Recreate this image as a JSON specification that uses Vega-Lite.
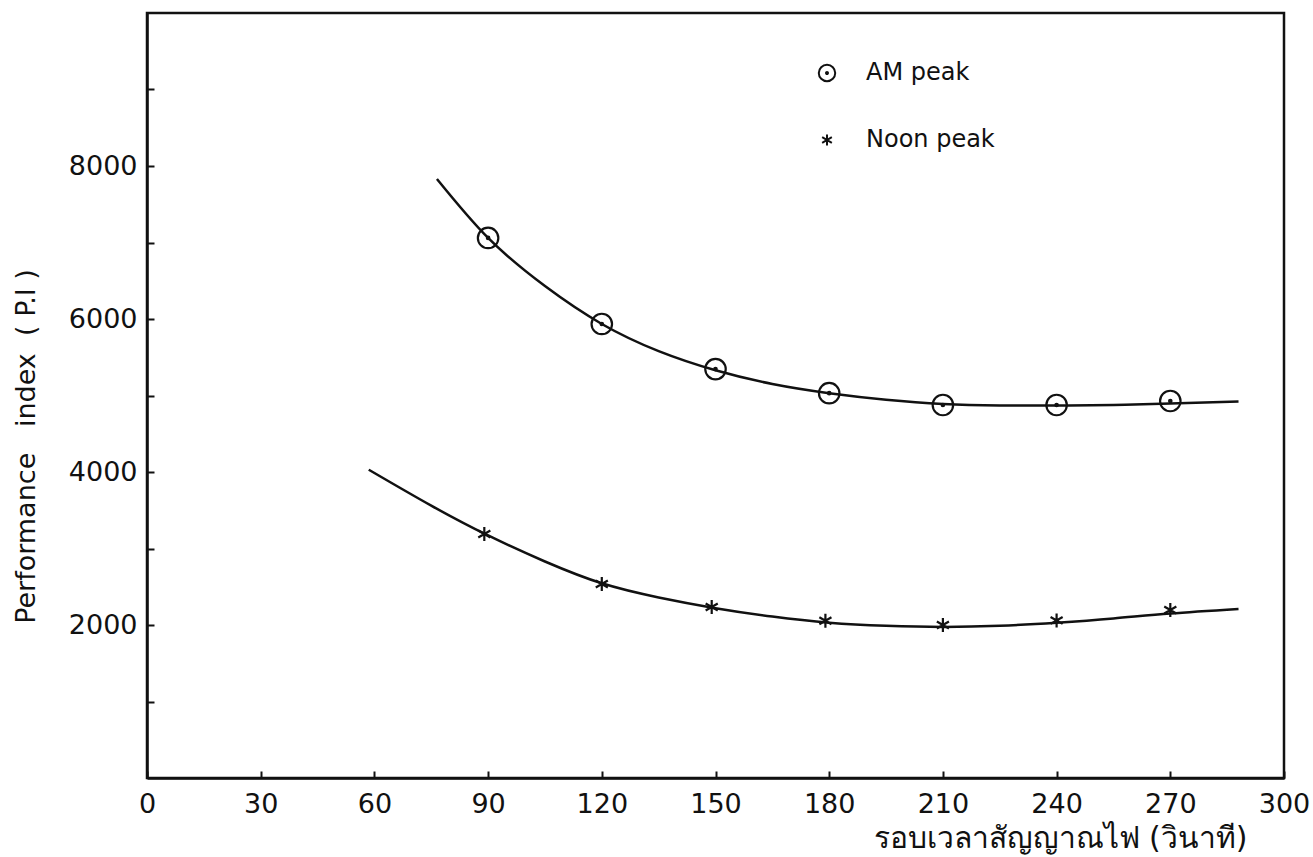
{
  "$schema": "https://vega.github.io/schema/vega-lite/v6.json",
  "width": 1137,
  "height": 765,
  "autosize": "none",
  "padding": {"left": 147, "top": 13, "right": 29, "bottom": 79},
  "background": "white",
  "config": {
    "view": {"stroke": "#111", "strokeWidth": 2.5},
    "font": "DejaVu Sans"
  },
  "datasets": {
    "points": [
      {"series": "AM peak", "cycle": 90, "pi": 7060},
      {"series": "AM peak", "cycle": 120, "pi": 5935},
      {"series": "AM peak", "cycle": 150, "pi": 5345},
      {"series": "AM peak", "cycle": 180, "pi": 5030},
      {"series": "AM peak", "cycle": 210, "pi": 4876},
      {"series": "AM peak", "cycle": 240, "pi": 4876},
      {"series": "AM peak", "cycle": 270, "pi": 4928},
      {"series": "Noon peak", "cycle": 89, "pi": 3190},
      {"series": "Noon peak", "cycle": 120, "pi": 2536},
      {"series": "Noon peak", "cycle": 149, "pi": 2235},
      {"series": "Noon peak", "cycle": 179, "pi": 2055},
      {"series": "Noon peak", "cycle": 210, "pi": 2000},
      {"series": "Noon peak", "cycle": 240, "pi": 2060},
      {"series": "Noon peak", "cycle": 270, "pi": 2196}
    ],
    "curves": [
      {"series": "AM peak", "cycle": 76.5, "pi": 7830},
      {"series": "AM peak", "cycle": 90, "pi": 7060},
      {"series": "AM peak", "cycle": 105, "pi": 6430},
      {"series": "AM peak", "cycle": 120, "pi": 5935},
      {"series": "AM peak", "cycle": 135, "pi": 5580},
      {"series": "AM peak", "cycle": 150, "pi": 5330},
      {"series": "AM peak", "cycle": 165, "pi": 5150},
      {"series": "AM peak", "cycle": 180, "pi": 5030},
      {"series": "AM peak", "cycle": 195, "pi": 4945},
      {"series": "AM peak", "cycle": 210, "pi": 4890},
      {"series": "AM peak", "cycle": 225, "pi": 4870},
      {"series": "AM peak", "cycle": 240, "pi": 4868},
      {"series": "AM peak", "cycle": 255, "pi": 4875},
      {"series": "AM peak", "cycle": 270, "pi": 4895},
      {"series": "AM peak", "cycle": 288, "pi": 4920},
      {"series": "Noon peak", "cycle": 58.5, "pi": 4030},
      {"series": "Noon peak", "cycle": 75, "pi": 3560},
      {"series": "Noon peak", "cycle": 90, "pi": 3170},
      {"series": "Noon peak", "cycle": 105, "pi": 2830},
      {"series": "Noon peak", "cycle": 120, "pi": 2545},
      {"series": "Noon peak", "cycle": 135, "pi": 2360},
      {"series": "Noon peak", "cycle": 150, "pi": 2220},
      {"series": "Noon peak", "cycle": 165, "pi": 2110},
      {"series": "Noon peak", "cycle": 180, "pi": 2030},
      {"series": "Noon peak", "cycle": 195, "pi": 1990},
      {"series": "Noon peak", "cycle": 210, "pi": 1975},
      {"series": "Noon peak", "cycle": 225, "pi": 1990},
      {"series": "Noon peak", "cycle": 240, "pi": 2030},
      {"series": "Noon peak", "cycle": 255, "pi": 2085},
      {"series": "Noon peak", "cycle": 270, "pi": 2150},
      {"series": "Noon peak", "cycle": 288, "pi": 2210}
    ]
  },
  "encoding": {
    "x": {
      "field": "cycle",
      "type": "quantitative",
      "scale": {"domain": [0, 300], "nice": false, "zero": false},
      "axis": {
        "title": "รอบเวลาสัญญาณไฟ (วินาที)",
        "values": [0, 30, 60, 90, 120, 150, 180, 210, 240, 270, 300],
        "grid": false,
        "domainColor": "#111",
        "domainWidth": 2.5,
        "tickColor": "#111",
        "tickWidth": 2,
        "tickSize": -7,
        "labelPadding": 20,
        "labelFontSize": 27,
        "labelColor": "#111",
        "labelFlush": false,
        "titleFontSize": 30,
        "titleColor": "#111",
        "titleFontWeight": "normal",
        "titleX": 913,
        "titleY": 60,
        "titleBaseline": "middle",
        "titleAnchor": "middle"
      }
    },
    "y": {
      "field": "pi",
      "type": "quantitative",
      "scale": {"domain": [0, 10000], "nice": false},
      "axis": {
        "title": "Performance\u00a0\u00a0\u00a0index\u00a0\u00a0(\u00a0P.I\u00a0)",
        "values": [1000, 2000, 3000, 4000, 5000, 6000, 7000, 8000, 9000],
        "labelExpr": "datum.value % 2000 == 0 ? datum.value : ''",
        "format": "d",
        "grid": false,
        "domainColor": "#111",
        "domainWidth": 2.5,
        "tickColor": "#111",
        "tickWidth": 2,
        "tickSize": -7,
        "labelPadding": 17,
        "labelFontSize": 27,
        "labelColor": "#111",
        "titleFontSize": 27,
        "titleColor": "#111",
        "titleFontWeight": "normal",
        "titleX": -107,
        "titleY": 433,
        "titleAnchor": "middle"
      }
    }
  },
  "layer": [
    {
      "data": {"name": "curves"},
      "mark": {"type": "line", "interpolate": "natural", "color": "#111", "strokeWidth": 2.5},
      "encoding": {"detail": {"field": "series"}}
    },
    {
      "data": {"name": "points"},
      "mark": {"type": "point", "filled": false, "color": "#111", "strokeWidth": 2.2, "opacity": 1, "size": 420},
      "encoding": {
        "shape": {
          "field": "series",
          "type": "nominal",
          "scale": {
            "domain": ["AM peak", "Noon peak"],
            "range": [
              "M1,0A1,1 0 1,1 -1,0A1,1 0 1,1 1,0Z M0.12,0A0.12,0.12 0 1,1 -0.12,0A0.12,0.12 0 1,1 0.12,0Z",
              "M0,-0.68L0,0.68M-0.59,-0.34L0.59,0.34M-0.59,0.34L0.59,-0.34"
            ]
          },
          "legend": {
            "title": null,
            "orient": "none",
            "legendX": 668,
            "legendY": 48,
            "labelFontSize": 24,
            "labelColor": "#111",
            "labelOffset": 27,
            "symbolSize": 270,
            "symbolStrokeWidth": 2,
            "symbolStrokeColor": "#111",
            "symbolFillColor": "transparent",
            "rowPadding": 42,
            "symbolOpacity": 1
          }
        }
      }
    }
  ]
}
